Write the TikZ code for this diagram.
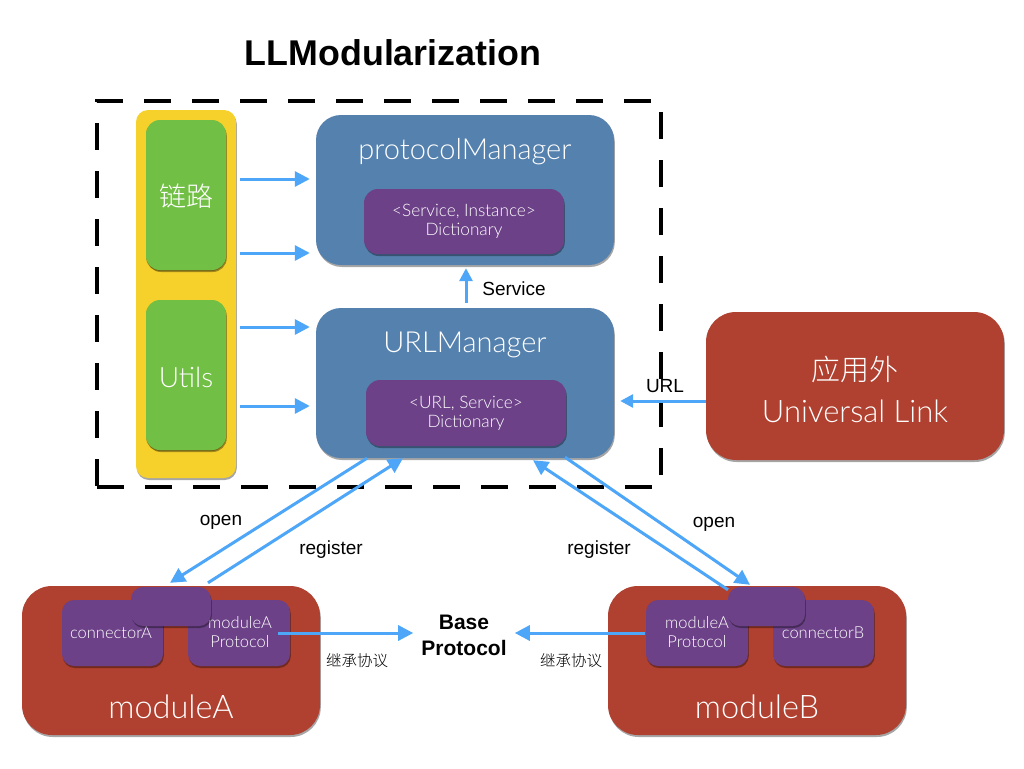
\documentclass[tikz,border=0pt]{standalone}
\usepackage{fontspec}
\setmainfont{Liberation Sans}
\newfontfamily\lt{Lato Light}
\newfontfamily\cjk{Noto Sans CJK SC}
\IfFontExistsTF{Noto Sans CJK SC Light}{\newfontfamily\cjklt{Noto Sans CJK SC Light}}{%
  \IfFontExistsTF{Noto Sans CJK SC DemiLight}{\newfontfamily\cjklt{Noto Sans CJK SC DemiLight}}{\newfontfamily\cjklt{Noto Sans CJK SC}}}
\usetikzlibrary{shadows,arrows.meta,calc}
\definecolor{bluebox}{HTML}{5581AE}
\definecolor{purplebox}{HTML}{6C4188}
\definecolor{redbox}{HTML}{B0402F}
\definecolor{greenbox}{HTML}{71BF44}
\definecolor{yellowbox}{HTML}{F6D12B}
\definecolor{arrowblue}{HTML}{4DA6F7}
\begin{document}
\begin{tikzpicture}[x=1pt,y=-1pt,
  box/.style={rounded corners=#1, inner sep=0pt, draw=none,
    drop shadow={shadow xshift=0.8pt, shadow yshift=-2pt, opacity=0.35, fill=black}},
  box/.default=20pt,
  wt/.style={text=white, font=\lt\fontsize{#1}{\fpeval{#1*1.12}}\selectfont, align=center, inner sep=0pt},
  bt/.style={text=black, font=\fontsize{#1}{\fpeval{#1*1.2}}\selectfont, align=center, inner sep=0pt},
  arr/.style={draw=arrowblue, line width=3pt, -{Triangle[length=15pt,width=15pt]}},
]
\useasboundingbox[fill=white] (0,0) rectangle (1024,768);

% title
\node[bt=35, font=\bfseries\fontsize{35.8}{40}\selectfont] (title) at (393,53) {LLModularization};

% dashed frame
\node[draw=black, line width=4pt, dash pattern=on 27pt off 21pt, minimum width=564pt, minimum height=386pt, inner sep=0pt] (frame) at (379,294) {};

% left yellow column
\node[box=12pt, fill=yellowbox, minimum width=100pt, minimum height=368pt] (yel) at (186,294) {};
\node[box=14pt, fill=greenbox, minimum width=80pt, minimum height=150pt, drop shadow={shadow xshift=0pt, shadow yshift=-1pt, opacity=0.25, fill=black}] (g1) at (186,195) {};
\node[box=14pt, fill=greenbox, minimum width=80pt, minimum height=150pt, drop shadow={shadow xshift=0pt, shadow yshift=-1pt, opacity=0.25, fill=black}] (g2) at (186,375) {};
\node[wt=26, font=\cjklt\fontsize{27}{30}\selectfont] (g1t) at (186,196) {链路};
\node[wt=28] (g2t) at (186,377) {Utils};

% protocolManager
\node[box=25pt, fill=bluebox, minimum width=298pt, minimum height=150pt] (pm) at (465,190) {};
\node[wt=29] (pmt) at (465,152) {protocolManager};
\node[box=14pt, fill=purplebox, minimum width=200pt, minimum height=65pt] (pmd) at (464,221.5) {};
\node[wt=17.2] (pmdt) at (pmd) {<Service, Instance>\\Dictionary};

% URLManager
\node[box=25pt, fill=bluebox, minimum width=298pt, minimum height=150pt] (um) at (465,383) {};
\node[wt=29] (umt) at (465,345) {URLManager};
\node[box=14pt, fill=purplebox, minimum width=200pt, minimum height=66pt] (umd) at (466,413) {};
\node[wt=17.2] (umdt) at (umd) {<URL, Service>\\Dictionary};

% external
\node[box=30pt, fill=redbox, minimum width=298pt, minimum height=148pt] (ext) at (855,386) {};
\node[wt=28, font=\cjklt\fontsize{29}{32}\selectfont] (extt1) at (855,369) {应用外};
\node[wt=31] (extt2) at (855,411) {Universal Link};

% moduleA
\node[box=30pt, fill=redbox, minimum width=298pt, minimum height=149pt] (modA) at (171,660.5) {};
\node[wt=32.5] (modAt) at (171,707) {moduleA};
\node[box=12pt, fill=purplebox, minimum width=101pt, minimum height=66pt] (conA) at (112.5,633) {};
\node[wt=16.5] (conAt) at (111,633) {connectorA};
\node[box=12pt, fill=purplebox, minimum width=102pt, minimum height=66pt] (protA) at (239,633) {};
\node[wt=16.5] (protAt) at (240,632) {moduleA\\Protocol};
\node[box=12pt, fill=purplebox, minimum width=80pt, minimum height=39pt] (topA) at (171,606.5) {};

% moduleB
\node[box=30pt, fill=redbox, minimum width=298pt, minimum height=149pt] (modB) at (757,660.5) {};
\node[wt=32.5] (modBt) at (757,707) {moduleB};
\node[box=12pt, fill=purplebox, minimum width=102pt, minimum height=66pt] (protB) at (697,633) {};
\node[wt=16.5] (protBt) at (697,632) {moduleA\\Protocol};
\node[box=12pt, fill=purplebox, minimum width=101pt, minimum height=66pt] (conB) at (823.5,633) {};
\node[wt=16.5] (conBt) at (823,633) {connectorB};
\node[box=12pt, fill=purplebox, minimum width=77pt, minimum height=39pt] (topB) at (766.5,606.5) {};

% base protocol
\node[bt=21, font=\bfseries\fontsize{21}{26}\selectfont] (base) at (464,635) {Base\\Protocol};

% arrows from left column
\foreach \yy in {179,253} {
  \draw[arr] ($(yel.east |- 0,\yy)+(4,0)$) -- ($(pm.west |- 0,\yy)+(-6,0)$);
}
\foreach \yy in {327,406} {
  \draw[arr] ($(yel.east |- 0,\yy)+(4,0)$) -- ($(um.west |- 0,\yy)+(-6,0)$);
}

% service
\draw[arr, -{Triangle[length=13pt,width=13pt]}] ($(um.north -| 466,0)+(0,-5)$) -- ($(pm.south -| 466,0)+(0,3)$);
\node[bt=19] (svc) at (514,289) {Service};

% URL
\draw[arr, -{Triangle[length=13pt,width=13pt]}] (ext.west |- 0,401) -- ($(um.east |- 0,401)+(6,0)$);
\node[bt=19] (urlt) at (665,386) {URL};

% diagonals left
\draw[arr] (um.south -| 367,0) -- ($(modA.north -| 170,0)+(0,-3)$);
\draw[arr] ($(modA.north -| 208,0)+(0,-3)$) -- (um.south -| 403,0);
\node[bt=19] (openA) at (221,522) {open};
\node[bt=19] (regA) at (331,550) {register};

% diagonals right
\draw[arr] ($(um.south -| 565,0)+(0,-1)$) -- ($(modB.north -| 750,0)+(0,-1)$);
\draw[arr] ($(modB.north -| 728,0)+(0,4)$) -- ($(um.south -| 533,0)+(0,2)$);
\node[bt=19] (openB) at (714,524) {open};
\node[bt=19] (regB) at (599,550) {register};

% inheritance arrows
\draw[arr] ($(protA.east |- 0,633)+(-12,0)$) -- ($(base.west |- 0,633)+(-8,0)$);
\draw[arr] ($(protB.west |- 0,633)+(-1,0)$) -- ($(base.east |- 0,633)+(8,0)$);
\node[bt=15.5, font=\cjklt\fontsize{15.5}{18}\selectfont] (inhA) at (357,661) {继承协议};
\node[bt=15.5, font=\cjklt\fontsize{15.5}{18}\selectfont] (inhB) at (571,661) {继承协议};
\end{tikzpicture}
\end{document}
